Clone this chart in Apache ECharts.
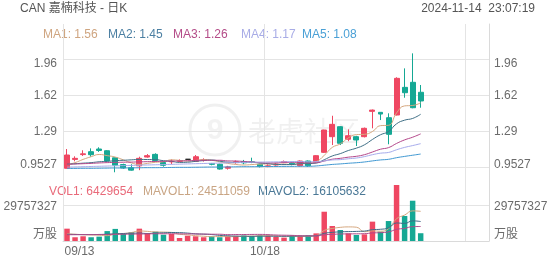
<!DOCTYPE html>
<html><head><meta charset="utf-8">
<script src="https://cdn.jsdelivr.net/npm/echarts@6/dist/echarts.min.js"></script>
<style>html,body{margin:0;padding:0;background:#fff}#c{width:552px;height:265px}</style>
</head><body><div id="c"></div>
<script>
// ---------- data ----------
const dates = ['09/13','09/16','09/17','09/18','09/19','09/20','09/23','09/24','09/25','09/26','09/27','09/30',
  '10/01','10/02','10/03','10/04','10/07','10/08','10/09','10/10','10/11','10/14','10/15','10/16','10/17','10/18',
  '10/21','10/22','10/23','10/24','10/25','10/28','10/29','10/30','10/31','11/01','11/04','11/05','11/06','11/07',
  '11/08','11/11','11/12','11/13','11/14',
  '11/15','11/18','11/19','11/20','11/21','11/22','11/25','11/26'];
const opens  = [0.947,1.030,1.075,1.102,1.127,1.111,1.045,0.982,0.953,0.970,1.052,1.077,1.001,1.007,1.012,1.031,1.012,1.022,0.992,0.985,0.948,1.000,1.010,1.008,0.984,0.963,0.978,1.000,0.995,0.971,1.015,1.009,1.096,1.242,1.335,1.218,1.242,1.242,1.478,1.469,1.419,1.444,1.702,1.749,1.656];
const closes = [1.071,1.040,1.082,1.074,1.113,1.016,0.976,0.950,0.930,1.040,1.065,1.020,0.975,1.015,1.018,1.031,1.055,1.026,0.984,0.940,0.960,1.008,0.998,1.003,0.963,0.970,0.987,1.010,0.985,1.015,0.971,1.065,1.304,1.357,1.180,1.251,1.211,1.320,1.490,1.453,1.264,1.786,1.652,1.512,1.575];
const lows   = [0.945,1.012,1.062,1.055,1.100,1.010,0.910,0.943,0.926,0.930,1.046,1.009,0.962,0.985,1.005,1.030,1.009,1.010,0.975,0.935,0.935,0.990,0.985,0.995,0.955,0.958,0.972,0.995,0.975,0.965,0.960,1.000,1.090,1.164,1.164,1.200,1.155,1.235,1.320,1.397,1.171,1.440,1.605,1.507,1.512];
const highs  = [1.127,1.059,1.115,1.133,1.143,1.116,1.048,0.990,0.985,1.055,1.080,1.087,1.015,1.030,1.030,1.032,1.071,1.040,0.997,0.990,0.970,1.020,1.025,1.046,0.990,0.985,0.997,1.020,1.000,1.020,1.020,1.070,1.306,1.437,1.340,1.310,1.250,1.327,1.495,1.470,1.460,1.796,1.879,2.019,1.724];

const ma1 = [0.980,1.000,1.030,1.055,1.076,1.065,1.052,1.026,0.998,0.983,0.993,1.003,1.009,1.026,1.021,1.014,1.020,1.029,1.022,1.007,0.993,0.983,0.978,0.982,0.986,0.988,0.984,0.986,0.982,0.993,0.994,1.009,1.068,1.142,1.175,1.231,1.261,1.264,1.290,1.345,1.348,1.463,1.529,1.533,1.558];
const ma2 = [0.985,0.990,0.995,1.000,1.008,1.012,1.018,1.022,1.026,1.030,1.029,1.028,1.018,1.012,1.002,1.004,1.012,1.019,1.024,1.014,1.004,1.002,1.003,1.002,0.997,0.990,0.984,0.982,0.982,0.990,0.991,0.996,1.027,1.062,1.084,1.113,1.135,1.166,1.216,1.260,1.290,1.362,1.396,1.412,1.451];
const ma3 = [0.985,0.987,0.990,0.993,0.997,1.000,1.002,1.004,1.005,1.007,1.009,1.011,1.012,1.014,1.016,1.018,1.020,1.022,1.022,1.022,1.016,1.015,1.011,1.007,0.999,0.997,0.998,1.001,1.003,1.002,0.997,0.999,1.015,1.032,1.040,1.051,1.059,1.074,1.099,1.125,1.140,1.179,1.212,1.237,1.268];
const ma4 = [0.958,0.960,0.962,0.964,0.966,0.968,0.970,0.972,0.974,0.976,0.978,0.980,0.982,0.984,0.986,0.988,0.990,0.992,0.994,0.996,0.998,1.000,1.002,1.004,1.005,1.006,1.007,1.008,1.010,1.011,1.008,1.009,1.016,1.025,1.028,1.036,1.043,1.056,1.074,1.088,1.095,1.120,1.142,1.159,1.177];
const ma5 = [0.945,0.946,0.947,0.947,0.948,0.949,0.950,0.950,0.951,0.952,0.953,0.953,0.954,0.955,0.956,0.956,0.957,0.958,0.959,0.959,0.960,0.961,0.962,0.962,0.963,0.964,0.964,0.965,0.965,0.966,0.966,0.969,0.976,0.983,0.988,0.994,0.999,1.006,1.016,1.025,1.031,1.046,1.058,1.069,1.080];

const volumes = [10.2e6,3.1e6,3.9e6,3.1e6,3.6e6,8.2e6,10.0e6,5.8e6,7.2e6,10.2e6,6.6e6,7.7e6,5.2e6,5.8e6,2.5e6,4.4e6,3.9e6,3.1e6,3.9e6,3.1e6,3.9e6,4.3e6,4.5e6,4.2e6,4.6e6,4.4e6,3.5e6,2.8e6,4.5e6,4.3e6,4.6e6,6.3e6,24.2e6,12.4e6,9.1e6,6.3e6,5.0e6,5.5e6,16.0e6,7.7e6,16.5e6,46.3e6,20.7e6,33.3e6,6429654];
const mavol1 = [6.0e6,5.6e6,5.2e6,5.0e6,4.78e6,4.38e6,5.76e6,6.14e6,6.96e6,8.28e6,7.96e6,7.5e6,7.38e6,7.1e6,5.56e6,5.12e6,4.36e6,3.94e6,3.56e6,3.68e6,3.58e6,3.68e6,3.94e6,4.04e6,4.3e6,4.4e6,4.22e6,3.9e6,3.9e6,3.9e6,3.9e6,4.46e6,8.74e6,10.34e6,11.28e6,11.66e6,11.4e6,7.66e6,8.38e6,8.1e6,10.14e6,18.4e6,21.44e6,24.9e6,24511059];
const mavol2 = [5.5e6,5.4e6,5.3e6,5.3e6,5.4e6,5.6e6,6.0e6,6.2e6,6.4e6,6.53e6,6.17e6,6.63e6,6.76e6,7.03e6,6.92e6,6.54e6,5.93e6,5.66e6,5.33e6,4.62e6,4.35e6,4.02e6,3.94e6,3.8e6,3.99e6,3.99e6,3.95e6,3.92e6,3.97e6,4.1e6,4.15e6,4.34e6,6.32e6,7.12e6,7.59e6,7.78e6,7.93e6,8.2e6,9.36e6,9.69e6,10.9e6,14.9e6,14.55e6,16.64e6,16105632];
const mavol3 = [5.2e6,5.2e6,5.3e6,5.3e6,5.3e6,5.4e6,5.5e6,5.6e6,5.7e6,5.8e6,5.9e6,6.0e6,6.0e6,6.0e6,5.9e6,5.9e6,5.8e6,5.7e6,5.6e6,5.58e6,5.26e6,5.33e6,5.35e6,5.42e6,5.46e6,5.27e6,4.94e6,4.79e6,4.65e6,4.36e6,4.25e6,4.18e6,5.13e6,5.46e6,5.79e6,5.89e6,5.94e6,6.06e6,6.67e6,6.9e6,7.53e6,9.62e6,10.44e6,11.88e6,11.98e6];

const priceTicks = [0.9527, 1.2884, 1.6241, 1.9598];
const priceTickLabels = ['0.9527', '1.29', '1.62', '1.96'];
const volTicks = [0, 29757327];
const volTickLabels = ['万股', '29757327'];
const xLabelIndex = [0, 25];
const maLegend = ['MA1: 1.56', 'MA2: 1.45', 'MA3: 1.26', 'MA4: 1.17', 'MA5: 1.08'];
const volLegend = ['VOL1: 6429654', 'MAVOL1: 24511059', 'MAVOL2: 16105632'];

// ---------- styling ----------
const FONT = '"Liberation Sans", Arial, "Noto Sans CJK SC", sans-serif';
const UP = '#ef4762', DOWN = '#15a894';
const GRID_LINE = '#e4e4e4';
const maColors = ['#d6a87f', '#3f6f86', '#b4478a', '#a6abec', '#3f98d2'];
const maLegendColors = ['#cfa580', '#4b7fa2', '#b44c88', '#a8ace6', '#4aa0d6'];
const volLineColors = ['#d6a87f', '#3f6a86', '#b04a8a'];
const volLegendColors = ['#e96a7a', '#c9a584', '#4a7896'];
const maLegendX = [43, 108, 173, 241, 302];
const volLegendX = [49, 143, 258];

const candleData = opens.map((o, i) => [o, closes[i], lows[i], highs[i]]);
const volData = volumes.map((v, i) => ({
  value: v,
  itemStyle: { color: closes[i] >= opens[i] ? UP : DOWN }
}));

function nearIdx(arr, v, tol) {
  for (let i = 0; i < arr.length; i++) if (Math.abs(arr[i] - v) < tol) return i;
  return -1;
}
const richBase = { fontSize: 12, color: '#6b6b6b', fontFamily: FONT };
const priceRich = {
  t: Object.assign({ padding: [8, 0, 0, 0] }, richBase),
  n: Object.assign({}, richBase),
  b: Object.assign({ padding: [0, 0, 6, 0] }, richBase)
};
function priceFmt(v) {
  const k = nearIdx(priceTicks, v, 1e-6);
  if (k < 0) return '';
  const tag = k === priceTicks.length - 1 ? 't' : (k === 0 ? 'b' : 'n');
  return '{' + tag + '|' + priceTickLabels[k] + '}';
}
const volRich = {
  u: Object.assign({ padding: [0, 0, 12, 0] }, richBase),
  n: Object.assign({ padding: [3, 0, 0, 0] }, richBase)
};
function volFmt(v) {
  const k = nearIdx(volTicks, v, 0.5);
  if (k < 0) return '';
  return '{' + (k === 0 ? 'u' : 'n') + '|' + volTickLabels[k] + '}';
}

// price axis range (pixel-matched: 0.3357 per 36 px)
const pMin = 0.8753, pMax = 2.2927;
const vMax = 59514654;

const splitX = { show: true, interval: (i) => i % 25 === 0, lineStyle: { color: GRID_LINE, width: 1 } };

const graphics = [
  { type: 'circle', shape: { cx: 215, cy: 130, r: 25 }, style: { fill: 'none', stroke: 'rgba(0,0,0,0.06)', lineWidth: 3 }, z: -1 },
  { type: 'text', x: 215, y: 131, style: { text: '9', font: 'bold 30px ' + FONT, fill: 'rgba(0,0,0,0.05)', textAlign: 'center', textVerticalAlign: 'middle' }, z: -1 },
  { type: 'text', x: 248, y: 131, style: { text: '老虎社区', font: '28px "Noto Sans CJK SC", sans-serif', fill: 'rgba(0,0,0,0.06)', textAlign: 'left', textVerticalAlign: 'middle' }, z: -1 },
  { type: 'text', x: 20, y: 8.5, style: { text: 'CAN 嘉楠科技 - 日K', font: '12px ' + FONT, fill: '#555', textAlign: 'left', textVerticalAlign: 'middle' } },
  { type: 'text', x: 535, y: 8.5, style: { text: '2024-11-14  23:07:19', font: '12px ' + FONT, fill: '#555', textAlign: 'right', textVerticalAlign: 'middle' } }
];
maLegend.forEach((t, i) => graphics.push({ type: 'text', x: maLegendX[i], y: 34.5,
  style: { text: t, font: '12px ' + FONT, fill: maLegendColors[i], textAlign: 'left', textVerticalAlign: 'middle' } }));
volLegend.forEach((t, i) => graphics.push({ type: 'text', x: volLegendX[i], y: 192,
  style: { text: t, font: '12px ' + FONT, fill: volLegendColors[i], textAlign: 'left', textVerticalAlign: 'middle' } }));

const maSeries = [ma1, ma2, ma3, ma4, ma5].map((d, i) => ({
  type: 'line', xAxisIndex: 0, yAxisIndex: 0, data: d, smooth: true, showSymbol: false, symbol: 'none',
  lineStyle: { width: 1, color: maColors[i] }, z: 3, silent: true
}));
const volMaSeries = [mavol1, mavol2, mavol3].map((d, i) => ({
  type: 'line', xAxisIndex: 1, yAxisIndex: 2, data: d, smooth: true, showSymbol: false, symbol: 'none',
  lineStyle: { width: 1, color: volLineColors[i] }, z: 3, silent: true
}));

const option = {
  animation: false,
  backgroundColor: '#fff',
  textStyle: { fontFamily: FONT },
  graphic: graphics,
  grid: [
    { left: 63, right: 63, top: 24, height: 152, outerBoundsMode: 'none', containLabel: false },
    { left: 63, right: 63, top: 169, height: 72, outerBoundsMode: 'none', containLabel: false }
  ],
  xAxis: [
    { type: 'category', gridIndex: 0, data: dates, boundaryGap: true,
      axisLine: { show: false }, axisTick: { show: false }, axisLabel: { show: false }, splitLine: splitX },
    { type: 'category', gridIndex: 1, data: dates, boundaryGap: true,
      axisLine: { show: true, lineStyle: { color: '#dadada' } }, axisTick: { show: false }, splitLine: splitX,
      axisLabel: {
        interval: (i) => xLabelIndex.indexOf(i) >= 0, margin: 5,
        formatter: (v, i) => (i === 0 ? '{l|' + v + '}' : '{m|' + v + '}'),
        rich: {
          l: Object.assign({ padding: [0, 0, 0, 25] }, richBase),
          m: Object.assign({ padding: [0, 6, 0, 0] }, richBase)
        }
      } }
  ],
  yAxis: [
    { type: 'value', gridIndex: 0, position: 'left', min: pMin, max: pMax, scale: true,
      axisLine: { show: false }, axisTick: { show: false, customValues: priceTicks },
      axisLabel: { customValues: priceTicks, margin: 6, formatter: priceFmt, rich: priceRich },
      splitLine: { show: true, lineStyle: { color: GRID_LINE } } },
    { type: 'value', gridIndex: 0, position: 'right', min: pMin, max: pMax, scale: true,
      axisLine: { show: true, lineStyle: { color: '#dadada' } }, axisTick: { show: false, customValues: priceTicks },
      axisLabel: { customValues: priceTicks, margin: 5, formatter: priceFmt, rich: priceRich },
      splitLine: { show: false } },
    { type: 'value', gridIndex: 1, position: 'left', min: 0, max: vMax,
      axisLine: { show: false }, axisTick: { show: false, customValues: volTicks },
      axisLabel: { customValues: volTicks, margin: 6, formatter: volFmt, rich: volRich },
      splitLine: { show: true, lineStyle: { color: GRID_LINE } } },
    { type: 'value', gridIndex: 1, position: 'right', min: 0, max: vMax,
      axisLine: { show: true, lineStyle: { color: '#dadada' } }, axisTick: { show: false, customValues: volTicks },
      axisLabel: { customValues: volTicks, margin: 5, formatter: volFmt, rich: volRich },
      splitLine: { show: false } }
  ],
  series: [
    { type: 'candlestick', xAxisIndex: 0, yAxisIndex: 0, data: candleData, barWidth: '68%', z: 2,
      itemStyle: { color: UP, color0: DOWN, borderColor: UP, borderColor0: DOWN, borderColorDoji: '#222', borderWidth: 1 } },
    ...maSeries,
    { type: 'bar', xAxisIndex: 1, yAxisIndex: 2, data: volData, barWidth: '68%', z: 2 },
    ...volMaSeries
  ]
};
const chart = echarts.init(document.getElementById('c'), null, { renderer: 'canvas' });
chart.setOption(option);
</script></body></html>
